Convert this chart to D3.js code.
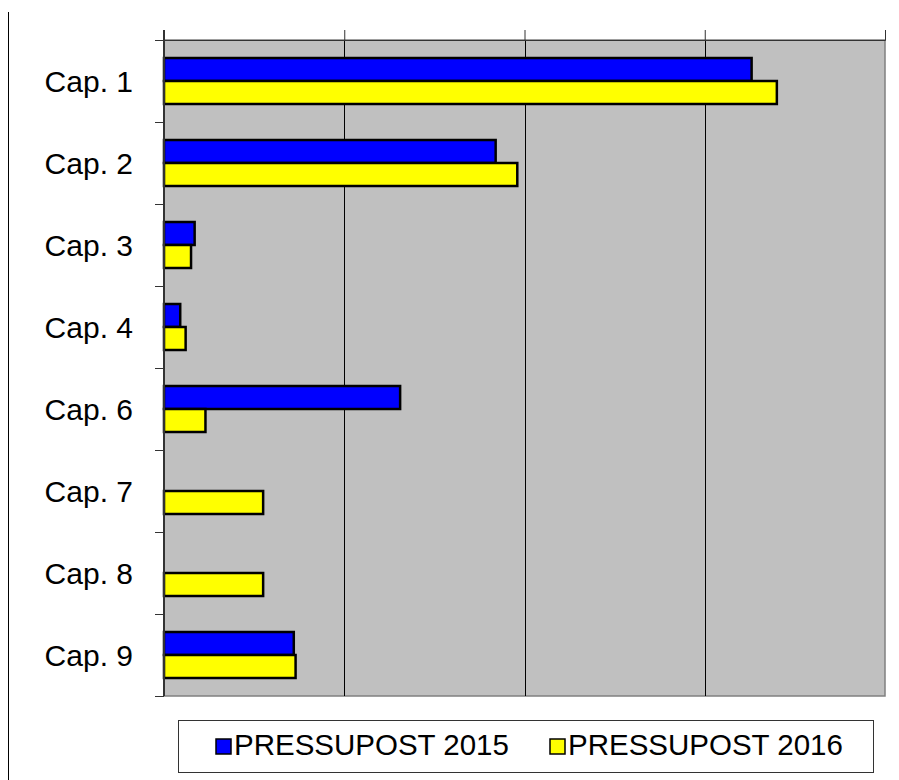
<!DOCTYPE html>
<html>
<head>
<meta charset="utf-8">
<script src="https://cdn.jsdelivr.net/npm/d3@7"></script>
<style>
  body { margin: 0; background: #fff; }
  svg { display: block; font-family: Arial, "Liberation Sans", sans-serif; }
</style>
</head>
<body>
<div class="chart"></div>
<script>
const w = 899;
const h = 780;

// data (gridline step = 1 unit)
const categories = ['Cap. 1', 'Cap. 2', 'Cap. 3', 'Cap. 4', 'Cap. 6', 'Cap. 7', 'Cap. 8', 'Cap. 9'];
const values2015 = [3.26, 1.84, 0.17, 0.09, 1.31, 0, 0, 0.72];
const values2016 = [3.4, 1.96, 0.15, 0.12, 0.23, 0.55, 0.55, 0.73];
const seriesNames = ['PRESSUPOST 2015', 'PRESSUPOST 2016'];
const seriesColors = ['#0000ff', '#ffff00'];
const xTicks = [0, 1, 2, 3, 4];

const plot = { left: 164, right: 885, top: 40, bottom: 696 };

const svg = d3.select('.chart')
  .append('svg')
  .attr('width', w)
  .attr('height', h);

// outer left border line
svg.append('line')
  .attr('x1', 8.5).attr('x2', 8.5)
  .attr('y1', 12).attr('y2', h)
  .attr('stroke', '#000').attr('stroke-width', 1);

const xScale = d3.scaleLinear()
  .domain([0, 4])
  .range([plot.left, plot.right]);

const yScale = d3.scaleBand()
  .domain(categories)
  .range([plot.top, plot.bottom]);

const inner = d3.scaleBand()
  .domain([0, 1])
  .range([18, yScale.bandwidth() - 18]);

// plot background
svg.append('rect')
  .attr('x', plot.left)
  .attr('y', plot.top)
  .attr('width', plot.right - plot.left)
  .attr('height', plot.bottom - plot.top)
  .attr('fill', '#c0c0c0')
  .attr('stroke', '#808080')
  .attr('stroke-width', 1.5);

// gridlines
svg.append('g')
  .selectAll('line')
  .data(xTicks.slice(1, -1))
  .enter()
  .append('line')
  .attr('x1', (d) => Math.round(xScale(d)) + 0.5)
  .attr('x2', (d) => Math.round(xScale(d)) + 0.5)
  .attr('y1', plot.top)
  .attr('y2', plot.bottom)
  .attr('stroke', '#000');

// top axis, no labels
const xAxis = d3.axisTop(xScale)
  .tickValues(xTicks)
  .tickSize(10)
  .tickFormat('');
svg.append('g')
  .attr('transform', `translate(0, ${plot.top})`)
  .call(xAxis)
  .call((g) => g.selectAll('path, line').attr('stroke', '#333'));

// bars
const groups = svg.append('g')
  .selectAll('g')
  .data(categories)
  .enter()
  .append('g')
  .attr('transform', (d) => `translate(0, ${yScale(d)})`);

groups.each(function (c, ci) {
  const vals = [values2015[ci], values2016[ci]];
  vals.forEach((v, si) => {
    if (v <= 0) return;
    d3.select(this).append('rect')
      .attr('x', xScale(0))
      .attr('y', inner(si))
      .attr('width', xScale(v) - xScale(0))
      .attr('height', inner.bandwidth())
      .attr('fill', seriesColors[si])
      .attr('stroke', '#000')
      .attr('stroke-width', 2.5);
  });
});

// left axis
const yAxis = d3.axisLeft(yScale)
  .tickSize(0)
  .tickPadding(31);
const yG = svg.append('g')
  .attr('transform', `translate(${plot.left}, 0)`)
  .call(yAxis);
yG.select('.domain').remove();
yG.selectAll('text')
  .attr('font-size', 30)
  .attr('dy', '0.36em')
  .attr('font-family', 'Arial, "Liberation Sans", sans-serif')
  .attr('fill', '#000');

// left axis line + boundary ticks
const bounds = categories.map((d) => yScale(d)).concat([plot.bottom]);
svg.append('g')
  .selectAll('line')
  .data(bounds)
  .enter()
  .append('line')
  .attr('x1', plot.left - 9)
  .attr('x2', plot.left)
  .attr('y1', (d) => Math.round(d) + 0.5)
  .attr('y2', (d) => Math.round(d) + 0.5)
  .attr('stroke', '#333');
svg.append('line')
  .attr('x1', plot.left).attr('x2', plot.left)
  .attr('y1', plot.top - 10).attr('y2', plot.bottom)
  .attr('stroke', '#333').attr('stroke-width', 2);

// legend
const legend = svg.append('g');
legend.append('rect')
  .attr('x', 178.5).attr('y', 720.5)
  .attr('width', 695).attr('height', 52)
  .attr('fill', '#fff')
  .attr('stroke', '#333');

const legendX = [216, 550];
seriesNames.forEach((name, i) => {
  legend.append('rect')
    .attr('x', legendX[i]).attr('y', 739)
    .attr('width', 15).attr('height', 15)
    .attr('fill', seriesColors[i])
    .attr('stroke', '#000')
    .attr('stroke-width', 1.5);
  legend.append('text')
    .attr('x', legendX[i] + 18)
    .attr('y', 755)
    .attr('font-size', 29.5)
    .attr('fill', '#000')
    .text(name);
});
</script>
</body>
</html>
